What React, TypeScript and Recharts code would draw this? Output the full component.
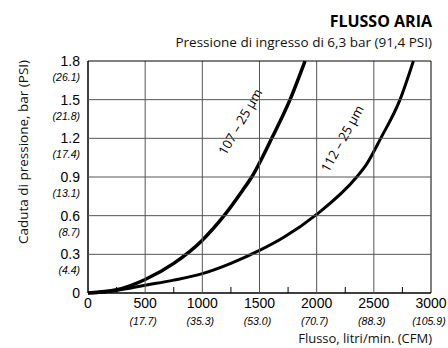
import React from "react"
import { LineChart, Line, XAxis, YAxis, ReferenceDot } from "recharts"

// flow in l/min, pressure drop in bar
const flow107 = [0, 250, 500, 750, 1000, 1190, 1347, 1432, 1607, 1767, 1898]
const drop107 = [0, 0.025, 0.105, 0.23, 0.41, 0.6, 0.79, 0.9, 1.2, 1.5, 1.8]

const flow112 = [0, 250, 500, 750, 1000, 1250, 1500, 1709, 2000, 2350, 2437, 2560, 2729, 2846]
const drop112 = [0, 0.02, 0.06, 0.1, 0.15, 0.23, 0.33, 0.43, 0.61, 0.9, 1.0, 1.2, 1.5, 1.8]

const xTicks = [0, 500, 1000, 1500, 2000, 2500, 3000]
const cfmLabels = ["", "(17.7)", "(35.3)", "(53.0)", "(70.7)", "(88.3)", "(105.9)"]
const yTicks = [0, 0.3, 0.6, 0.9, 1.2, 1.5, 1.8]
const psiLabels = ["", "(4.4)", "(8.7)", "(13.1)", "(17.4)", "(21.8)", "(26.1)"]
const minorTicks = [250, 750, 1250, 1750, 2250, 2750]

const curveLabels = [
  { text: "107 – 25 µm", x: 1329, y: 1.33, angle: -60 },
  { text: "112 – 25 µm", x: 2222, y: 1.2, angle: -61 },
]

const series107 = flow107.map((x, i) => ({ x, y: drop107[i] }))
const series112 = flow112.map((x, i) => ({ x, y: drop112[i] }))

const xMax = xTicks[xTicks.length - 1]
const yMax = yTicks[yTicks.length - 1]
const allXTicks = [...xTicks, ...minorTicks].sort((a, b) => a - b)

// layout
const CHART_W = 448
const CHART_H = 348
const MARGIN = { top: 61, right: 17, bottom: 15, left: 28 }
const Y_AXIS_W = 60
const X_AXIS_H = 40
const PLOT_LEFT = MARGIN.left + Y_AXIS_W
const PLOT_RIGHT = CHART_W - MARGIN.right
const PLOT_TOP = MARGIN.top
const PLOT_BOTTOM = CHART_H - MARGIN.bottom - X_AXIS_H
const MINOR_LEN = 6

const numFont = "'Liberation Sans', Arial, sans-serif"
const textFont = "'Open Sans', 'Noto Sans', sans-serif"

// y tick: label pair + horizontal grid line
function YTick(props: any) {
  const { x, y, payload } = props
  const v = payload.value
  const idx = yTicks.indexOf(v)
  return (
    <g>
      {v > 0 && (
        <line
          x1={PLOT_LEFT}
          x2={PLOT_RIGHT}
          y1={y}
          y2={y}
          stroke={v === yMax ? "#000" : "#555"}
          strokeWidth={1}
        />
      )}
      <text x={x} y={y + 5} textAnchor="end" fontFamily={numFont} fontSize={14} fill="#000">
        {v === 0 ? "0" : v.toFixed(1)}
      </text>
      {psiLabels[idx] && (
        <text x={x} y={y + 20} textAnchor="end" fontFamily={numFont} fontSize={10.5} fontStyle="italic" fill="#000">
          {psiLabels[idx]}
        </text>
      )}
    </g>
  )
}

// x tick: label pair + vertical grid line, or a short inner mark for minor ticks
function XTick(props: any) {
  const { x, y, payload } = props
  const v = payload.value
  const idx = xTicks.indexOf(v)
  if (idx < 0) {
    return (
      <line x1={x} x2={x} y1={PLOT_BOTTOM - MINOR_LEN} y2={PLOT_BOTTOM} stroke="#000" strokeWidth={1} />
    )
  }
  return (
    <g>
      {v > 0 && (
        <line
          x1={x}
          x2={x}
          y1={PLOT_TOP}
          y2={PLOT_BOTTOM}
          stroke={v === xMax ? "#000" : "#555"}
          strokeWidth={1}
        />
      )}
      <text x={x} y={y + 7} textAnchor="middle" fontFamily={numFont} fontSize={14} fill="#000">
        {v}
      </text>
      {cfmLabels[idx] && (
        <text x={x - 2} y={y + 24} textAnchor="middle" fontFamily={numFont} fontSize={10.5} fontStyle="italic" fill="#000">
          {cfmLabels[idx]}
        </text>
      )}
    </g>
  )
}

const htmlText: React.CSSProperties = {
  position: "absolute",
  whiteSpace: "nowrap",
  fontFamily: textFont,
  color: "#111",
}

export default function App() {
  return (
    <div style={{ position: "absolute", left: 0, top: 0, width: CHART_W, height: CHART_H, background: "#fff" }}>
      <LineChart width={CHART_W} height={CHART_H} data={series107} margin={MARGIN}>
        <XAxis
          type="number"
          dataKey="x"
          domain={[0, xMax]}
          ticks={allXTicks}
          interval={0}
          tick={<XTick />}
          tickLine={false}
          height={X_AXIS_H}
          axisLine={{ stroke: "#000", strokeWidth: 1.5 }}
        />
        <YAxis
          type="number"
          domain={[0, yMax]}
          ticks={yTicks}
          interval={0}
          tick={<YTick />}
          tickLine={false}
          width={Y_AXIS_W}
          axisLine={{ stroke: "#000", strokeWidth: 1.5 }}
        />
        <Line
          dataKey="y"
          type="monotone"
          stroke="#000"
          strokeWidth={3.5}
          dot={false}
          zIndex={700}
          isAnimationActive={false}
        />
        <Line
          data={series112}
          dataKey="y"
          type="monotone"
          stroke="#000"
          strokeWidth={3}
          dot={false}
          zIndex={700}
          isAnimationActive={false}
        />
        {curveLabels.map((l) => (
          <ReferenceDot
            key={l.text}
            x={l.x}
            y={l.y}
            r={0}
            shape={(p: any) => (
              <text
                x={p.cx}
                y={p.cy}
                textAnchor="middle"
                dominantBaseline="central"
                transform={`rotate(${l.angle}, ${p.cx}, ${p.cy})`}
                fontFamily={textFont}
                fontSize={13}
                fill="#000"
              >
                {l.text}
              </text>
            )}
          />
        ))}
      </LineChart>
      <div style={{ ...htmlText, right: 16, top: 13, fontSize: 16, lineHeight: "16px", fontWeight: 700, color: "#000" }}>
        FLUSSO ARIA
      </div>
      <div style={{ ...htmlText, right: 16, top: 36, fontSize: 13.5, lineHeight: "13.5px" }}>
        Pressione di ingresso di 6,3 bar (91,4 PSI)
      </div>
      <div
        style={{
          ...htmlText,
          left: 23 - 125,
          top: 152 - 7,
          width: 250,
          textAlign: "center",
          fontSize: 13.5,
          lineHeight: "14px",
          transform: "rotate(-90deg)",
          transformOrigin: "50% 50%",
        }}
      >
        Caduta di pressione, bar (PSI)
      </div>
      <div style={{ ...htmlText, right: 16, top: 332, fontSize: 13, lineHeight: "13px" }}>
        Flusso, litri/min. (CFM)
      </div>
    </div>
  )
}
